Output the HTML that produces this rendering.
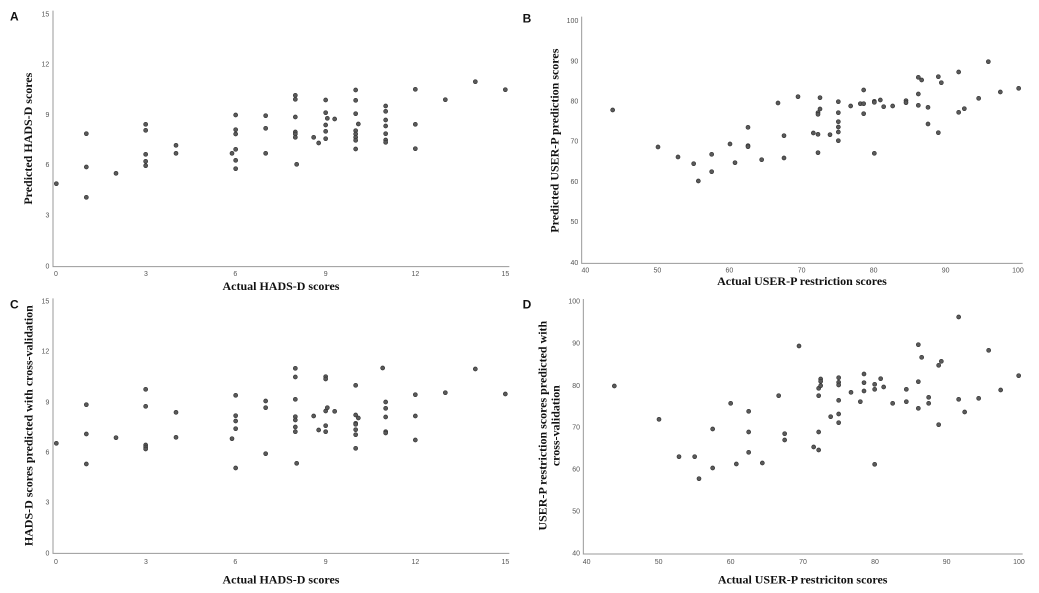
<!DOCTYPE html>
<html><head><meta charset="utf-8"><style>
html,body{margin:0;padding:0;background:#fff;}
svg{display:block;}
.t{font-family:"Liberation Sans",sans-serif;font-size:21px;fill:#555;}
.ti{font-family:"Liberation Serif",serif;font-size:36px;font-weight:bold;fill:#111;}
.pl{font-family:"Liberation Sans",sans-serif;font-size:36px;font-weight:bold;fill:#111;}
.ax{stroke:#999;stroke-width:3;fill:none;}
circle{fill:#5a5a5a;stroke:#333;stroke-width:2;}
</style></head><body>
<svg width="1039" height="593" viewBox="0 0 1039 593" xmlns="http://www.w3.org/2000/svg">
<!-- Panel A -->
<g transform="translate(0,0) scale(0.3333333)">
<text class="pl" x="30" y="62">A</text>
<path class="ax" d="M159,32 V800 H1528"/>
<g class="t" text-anchor="end">
<text x="148" y="49">15</text><text x="148" y="200">12</text><text x="148" y="351">9</text><text x="148" y="501">6</text><text x="148" y="652">3</text><text x="148" y="805">0</text></g>
<g class="t" text-anchor="middle">
<text x="168" y="828">0</text><text x="438" y="828">3</text><text x="706" y="828">6</text><text x="977" y="828">9</text><text x="1246" y="828">12</text><text x="1516" y="828">15</text></g>
<text class="ti" x="843" y="870" text-anchor="middle">Actual HADS-D scores</text>
<text class="ti" transform="translate(96,416) rotate(-90)" text-anchor="middle">Predicted HADS-D scores</text>
<g>
<circle cx="169" cy="551" r="6"/><circle cx="259" cy="401" r="6"/><circle cx="259" cy="501" r="6"/><circle cx="259" cy="592" r="6"/><circle cx="348" cy="520" r="6"/><circle cx="437" cy="373" r="6"/><circle cx="437" cy="391" r="6"/><circle cx="437" cy="463" r="6"/><circle cx="437" cy="484" r="6"/><circle cx="437" cy="497" r="6"/><circle cx="528" cy="436" r="6"/><circle cx="528" cy="460" r="6"/><circle cx="696" cy="460" r="6"/><circle cx="707" cy="345" r="6"/><circle cx="707" cy="389" r="6"/><circle cx="707" cy="402" r="6"/><circle cx="707" cy="448" r="6"/><circle cx="707" cy="481" r="6"/><circle cx="707" cy="506" r="6"/><circle cx="797" cy="347" r="6"/><circle cx="797" cy="385" r="6"/><circle cx="797" cy="460" r="6"/><circle cx="886" cy="286" r="6"/><circle cx="886" cy="298" r="6"/><circle cx="886" cy="351" r="6"/><circle cx="886" cy="396" r="6"/><circle cx="886" cy="402" r="6"/><circle cx="886" cy="412" r="6"/><circle cx="890" cy="493" r="6"/><circle cx="941" cy="412" r="6"/><circle cx="956" cy="429" r="6"/><circle cx="977" cy="300" r="6"/><circle cx="977" cy="338" r="6"/><circle cx="977" cy="375" r="6"/><circle cx="977" cy="394" r="6"/><circle cx="977" cy="416" r="6"/><circle cx="982" cy="355" r="6"/><circle cx="1004" cy="357" r="6"/><circle cx="1067" cy="270" r="6"/><circle cx="1067" cy="301" r="6"/><circle cx="1067" cy="341" r="6"/><circle cx="1067" cy="392" r="6"/><circle cx="1067" cy="402" r="6"/><circle cx="1067" cy="412" r="6"/><circle cx="1067" cy="421" r="6"/><circle cx="1067" cy="447" r="6"/><circle cx="1075" cy="372" r="6"/><circle cx="1157" cy="318" r="6"/><circle cx="1157" cy="334" r="6"/><circle cx="1157" cy="360" r="6"/><circle cx="1157" cy="378" r="6"/><circle cx="1157" cy="401" r="6"/><circle cx="1157" cy="420" r="6"/><circle cx="1157" cy="427" r="6"/><circle cx="1246" cy="268" r="6"/><circle cx="1246" cy="373" r="6"/><circle cx="1246" cy="446" r="6"/><circle cx="1336" cy="299" r="6"/><circle cx="1426" cy="245" r="6"/><circle cx="1516" cy="269" r="6"/>
</g></g>
<!-- Panel B -->
<g transform="translate(520,0) scale(0.3333333)">
<text class="pl" x="8" y="68">B</text>
<path class="ax" d="M185,50 V790 H1508"/>
<g class="t" text-anchor="end">
<text x="175" y="69">100</text><text x="175" y="190">90</text><text x="175" y="310">80</text><text x="175" y="431">70</text><text x="175" y="552">60</text><text x="175" y="672">50</text><text x="175" y="795">40</text></g>
<g class="t" text-anchor="middle">
<text x="196" y="818">40</text><text x="412" y="818">50</text><text x="628" y="818">60</text><text x="845" y="818">70</text><text x="1061" y="818">80</text><text x="1277" y="818">90</text><text x="1494" y="818">100</text></g>
<text class="ti" x="846" y="855" text-anchor="middle">Actual USER-P restriction scores</text>
<text class="ti" transform="translate(116,422) rotate(-90)" text-anchor="middle">Predicted USER-P prediction scores</text>
<g>
<circle cx="278" cy="330" r="6"/><circle cx="414" cy="441" r="6"/><circle cx="474" cy="471" r="6"/><circle cx="521" cy="491" r="6"/><circle cx="535" cy="543" r="6"/><circle cx="575" cy="463" r="6"/><circle cx="575" cy="515" r="6"/><circle cx="630" cy="432" r="6"/><circle cx="645" cy="488" r="6"/><circle cx="684" cy="382" r="6"/><circle cx="684" cy="437" r="6"/><circle cx="684" cy="440" r="6"/><circle cx="725" cy="479" r="6"/><circle cx="774" cy="309" r="6"/><circle cx="792" cy="407" r="6"/><circle cx="792" cy="474" r="6"/><circle cx="834" cy="290" r="6"/><circle cx="880" cy="399" r="6"/><circle cx="894" cy="403" r="6"/><circle cx="894" cy="458" r="6"/><circle cx="894" cy="338" r="6"/><circle cx="894" cy="343" r="6"/><circle cx="900" cy="293" r="6"/><circle cx="900" cy="327" r="6"/><circle cx="930" cy="404" r="6"/><circle cx="955" cy="305" r="6"/><circle cx="955" cy="338" r="6"/><circle cx="955" cy="365" r="6"/><circle cx="955" cy="381" r="6"/><circle cx="955" cy="396" r="6"/><circle cx="955" cy="422" r="6"/><circle cx="992" cy="318" r="6"/><circle cx="1021" cy="311" r="6"/><circle cx="1031" cy="270" r="6"/><circle cx="1031" cy="311" r="6"/><circle cx="1031" cy="341" r="6"/><circle cx="1063" cy="304" r="6"/><circle cx="1063" cy="307" r="6"/><circle cx="1063" cy="460" r="6"/><circle cx="1081" cy="300" r="6"/><circle cx="1091" cy="320" r="6"/><circle cx="1118" cy="318" r="6"/><circle cx="1158" cy="302" r="6"/><circle cx="1158" cy="308" r="6"/><circle cx="1195" cy="232" r="6"/><circle cx="1195" cy="282" r="6"/><circle cx="1195" cy="316" r="6"/><circle cx="1205" cy="240" r="6"/><circle cx="1224" cy="322" r="6"/><circle cx="1224" cy="372" r="6"/><circle cx="1255" cy="230" r="6"/><circle cx="1255" cy="398" r="6"/><circle cx="1264" cy="248" r="6"/><circle cx="1316" cy="216" r="6"/><circle cx="1316" cy="337" r="6"/><circle cx="1333" cy="326" r="6"/><circle cx="1376" cy="295" r="6"/><circle cx="1405" cy="185" r="6"/><circle cx="1441" cy="276" r="6"/><circle cx="1496" cy="265" r="6"/>
</g></g>
<!-- Panel C -->
<g transform="translate(0,295) scale(0.3333333)">
<text class="pl" x="30" y="40">C</text>
<path class="ax" d="M159,10 V775 H1528"/>
<g class="t" text-anchor="end">
<text x="148" y="26">15</text><text x="148" y="176">12</text><text x="148" y="328">9</text><text x="148" y="479">6</text><text x="148" y="629">3</text><text x="148" y="781">0</text></g>
<g class="t" text-anchor="middle">
<text x="168" y="807">0</text><text x="438" y="807">3</text><text x="706" y="807">6</text><text x="977" y="807">9</text><text x="1246" y="807">12</text><text x="1516" y="807">15</text></g>
<text class="ti" x="843" y="866" text-anchor="middle">Actual HADS-D scores</text>
<text class="ti" transform="translate(98,392) rotate(-90)" text-anchor="middle">HADS-D scores predicted with cross-validation</text>
<g>
<circle cx="169" cy="445" r="6"/><circle cx="259" cy="329" r="6"/><circle cx="259" cy="417" r="6"/><circle cx="259" cy="507" r="6"/><circle cx="348" cy="428" r="6"/><circle cx="437" cy="283" r="6"/><circle cx="437" cy="334" r="6"/><circle cx="437" cy="450" r="6"/><circle cx="437" cy="456" r="6"/><circle cx="437" cy="462" r="6"/><circle cx="528" cy="352" r="6"/><circle cx="528" cy="427" r="6"/><circle cx="696" cy="431" r="6"/><circle cx="707" cy="301" r="6"/><circle cx="707" cy="362" r="6"/><circle cx="707" cy="378" r="6"/><circle cx="707" cy="401" r="6"/><circle cx="707" cy="519" r="6"/><circle cx="797" cy="318" r="6"/><circle cx="797" cy="338" r="6"/><circle cx="797" cy="476" r="6"/><circle cx="886" cy="220" r="6"/><circle cx="886" cy="246" r="6"/><circle cx="886" cy="313" r="6"/><circle cx="886" cy="365" r="6"/><circle cx="886" cy="375" r="6"/><circle cx="886" cy="396" r="6"/><circle cx="886" cy="410" r="6"/><circle cx="890" cy="505" r="6"/><circle cx="941" cy="363" r="6"/><circle cx="956" cy="405" r="6"/><circle cx="977" cy="245" r="6"/><circle cx="977" cy="252" r="6"/><circle cx="977" cy="348" r="6"/><circle cx="977" cy="392" r="6"/><circle cx="977" cy="410" r="6"/><circle cx="982" cy="338" r="6"/><circle cx="1004" cy="349" r="6"/><circle cx="1067" cy="271" r="6"/><circle cx="1067" cy="360" r="6"/><circle cx="1067" cy="385" r="6"/><circle cx="1067" cy="388" r="6"/><circle cx="1067" cy="404" r="6"/><circle cx="1067" cy="419" r="6"/><circle cx="1067" cy="460" r="6"/><circle cx="1075" cy="369" r="6"/><circle cx="1148" cy="219" r="6"/><circle cx="1157" cy="321" r="6"/><circle cx="1157" cy="340" r="6"/><circle cx="1157" cy="366" r="6"/><circle cx="1157" cy="410" r="6"/><circle cx="1157" cy="414" r="6"/><circle cx="1246" cy="299" r="6"/><circle cx="1246" cy="363" r="6"/><circle cx="1246" cy="435" r="6"/><circle cx="1336" cy="293" r="6"/><circle cx="1426" cy="222" r="6"/><circle cx="1516" cy="297" r="6"/>
</g></g>
<!-- Panel D -->
<g transform="translate(520,295) scale(0.3333333)">
<text class="pl" x="8" y="40">D</text>
<path class="ax" d="M190,12 V777 H1508"/>
<g class="t" text-anchor="end">
<text x="180" y="26">100</text><text x="180" y="152">90</text><text x="180" y="279">80</text><text x="180" y="404">70</text><text x="180" y="530">60</text><text x="180" y="655">50</text><text x="180" y="782">40</text></g>
<g class="t" text-anchor="middle">
<text x="200" y="807">40</text><text x="416" y="807">50</text><text x="632" y="807">60</text><text x="849" y="807">70</text><text x="1065" y="807">80</text><text x="1280" y="807">90</text><text x="1497" y="807">100</text></g>
<text class="ti" x="848" y="866" text-anchor="middle">Actual USER-P restriciton scores</text>
<text class="ti" transform="translate(80,392) rotate(-90)" text-anchor="middle">USER-P restriction scores predicted with</text>
<text class="ti" transform="translate(118,392) rotate(-90)" text-anchor="middle">cross-validation</text>
<g>
<circle cx="283" cy="273" r="6"/><circle cx="417" cy="373" r="6"/><circle cx="477" cy="485" r="6"/><circle cx="524" cy="485" r="6"/><circle cx="537" cy="551" r="6"/><circle cx="578" cy="402" r="6"/><circle cx="578" cy="519" r="6"/><circle cx="632" cy="325" r="6"/><circle cx="649" cy="507" r="6"/><circle cx="686" cy="349" r="6"/><circle cx="686" cy="411" r="6"/><circle cx="686" cy="472" r="6"/><circle cx="727" cy="504" r="6"/><circle cx="776" cy="302" r="6"/><circle cx="794" cy="416" r="6"/><circle cx="794" cy="435" r="6"/><circle cx="837" cy="153" r="6"/><circle cx="881" cy="456" r="6"/><circle cx="896" cy="280" r="6"/><circle cx="896" cy="302" r="6"/><circle cx="896" cy="411" r="6"/><circle cx="896" cy="465" r="6"/><circle cx="902" cy="252" r="6"/><circle cx="902" cy="259" r="6"/><circle cx="902" cy="272" r="6"/><circle cx="932" cy="365" r="6"/><circle cx="956" cy="248" r="6"/><circle cx="956" cy="262" r="6"/><circle cx="956" cy="270" r="6"/><circle cx="956" cy="316" r="6"/><circle cx="956" cy="357" r="6"/><circle cx="956" cy="383" r="6"/><circle cx="993" cy="292" r="6"/><circle cx="1021" cy="320" r="6"/><circle cx="1032" cy="237" r="6"/><circle cx="1032" cy="263" r="6"/><circle cx="1032" cy="288" r="6"/><circle cx="1064" cy="268" r="6"/><circle cx="1064" cy="283" r="6"/><circle cx="1064" cy="508" r="6"/><circle cx="1082" cy="251" r="6"/><circle cx="1091" cy="276" r="6"/><circle cx="1118" cy="325" r="6"/><circle cx="1159" cy="283" r="6"/><circle cx="1159" cy="320" r="6"/><circle cx="1195" cy="149" r="6"/><circle cx="1195" cy="260" r="6"/><circle cx="1195" cy="340" r="6"/><circle cx="1205" cy="187" r="6"/><circle cx="1226" cy="307" r="6"/><circle cx="1226" cy="325" r="6"/><circle cx="1256" cy="211" r="6"/><circle cx="1256" cy="389" r="6"/><circle cx="1264" cy="199" r="6"/><circle cx="1316" cy="66" r="6"/><circle cx="1316" cy="313" r="6"/><circle cx="1334" cy="351" r="6"/><circle cx="1376" cy="310" r="6"/><circle cx="1406" cy="166" r="6"/><circle cx="1442" cy="285" r="6"/><circle cx="1496" cy="242" r="6"/>
</g></g>
</svg>
</body></html>
